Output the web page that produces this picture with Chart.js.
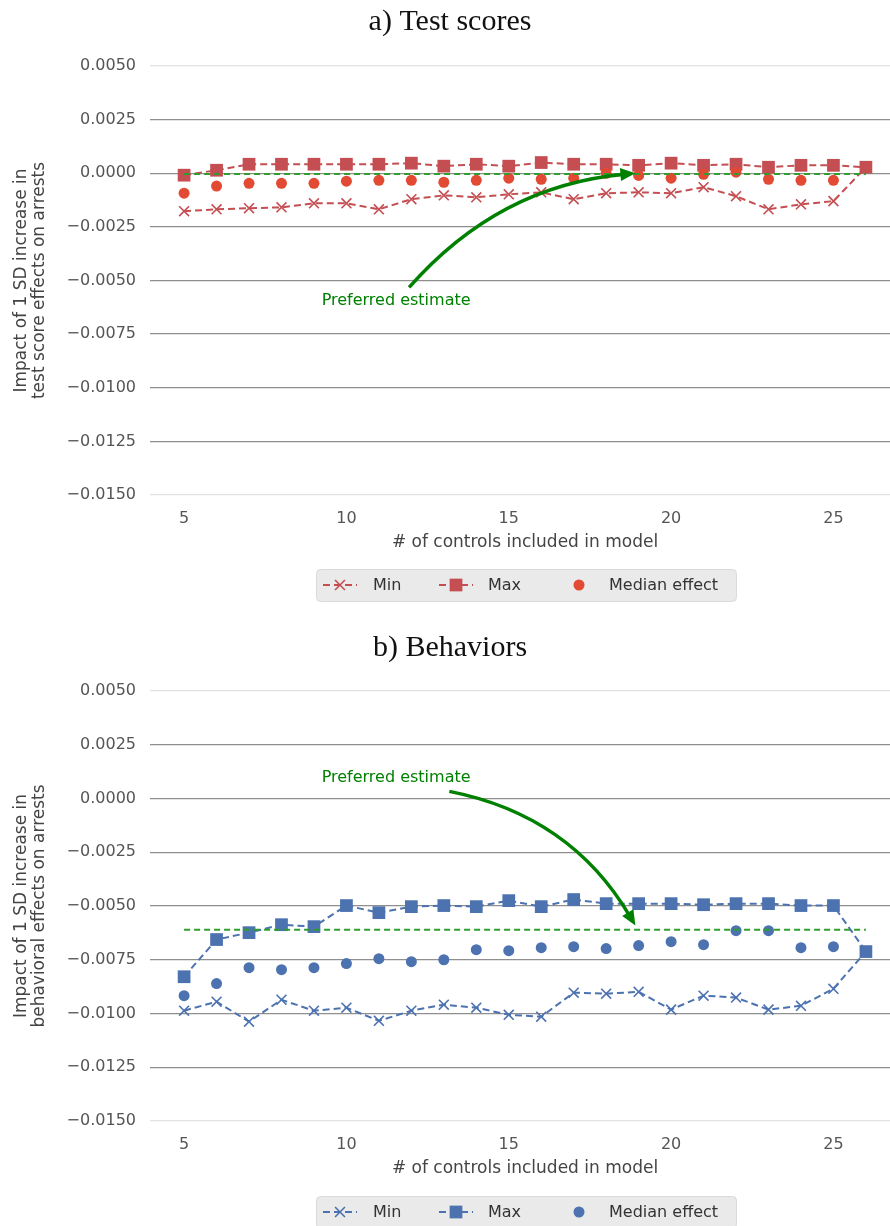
<!DOCTYPE html>
<html>
<head>
<meta charset="utf-8">
<script src="https://cdn.jsdelivr.net/npm/chart.js@4"></script>
<style>
html, body { margin: 0; padding: 0; background: #fff; overflow: hidden; width: 890px; height: 1226px; }
canvas { display: block; position: absolute; left: 0; }
#graficoA { top: 0; }
#graficoB { top: 613px; }
</style>
</head>
<body>
<canvas id="graficoA" width="912" height="613"></canvas>
<canvas id="graficoB" width="912" height="613"></canvas>
<script>
// Datos
const controles = [5, 6, 7, 8, 9, 10, 11, 12, 13, 14, 15, 16, 17, 18, 19, 20, 21, 22, 23, 24, 25, 26];
const xTicks = [5, 10, 15, 20, 25];
const yTicks = [-0.015, -0.0125, -0.01, -0.0075, -0.005, -0.0025, 0, 0.0025, 0.005];

// a) Test scores
const minTest = [-0.00177, -0.00168, -0.00163, -0.00159, -0.0014, -0.0014, -0.00168, -0.00121, -0.00103, -0.00112, -0.00098,
                 -0.00089, -0.00121, -0.00093, -0.00089, -0.00093, -0.00065, -0.00107, -0.00168, -0.00145, -0.0013, 0.00028];
const maxTest = [-0.00009, 0.00014, 0.00042, 0.00042, 0.00042, 0.00042, 0.00042, 0.00047, 0.00033, 0.00042, 0.00033,
                 0.0005, 0.00042, 0.00042, 0.00037, 0.00047, 0.00037, 0.00042, 0.00028, 0.00037, 0.00037, 0.00028];
const medTest = [-0.00093, -0.0006, -0.00047, -0.00047, -0.00047, -0.00037, -0.00033, -0.00033, -0.00042, -0.00033, -0.00023,
                 -0.00028, -0.00023, 0.0, -0.0001, -0.00023, -0.00005, 0.00005, -0.00028, -0.00033, -0.00033, null];
const prefTest = -0.00003;

// b) Behaviors
const minBeh = [-0.00987, -0.00945, -0.01038, -0.00936, -0.00987, -0.00973, -0.01034, -0.00987, -0.00959, -0.00973, -0.01006,
                -0.01015, -0.00903, -0.00908, -0.00899, -0.00982, -0.00917, -0.00926, -0.00982, -0.00964, -0.00885, -0.00712];
const maxBeh = [-0.00829, -0.00656, -0.00624, -0.00587, -0.00596, -0.00498, -0.00531, -0.00503, -0.00498, -0.00503, -0.00475,
                -0.00503, -0.0047, -0.00489, -0.00489, -0.00489, -0.00494, -0.00489, -0.00489, -0.00498, -0.00498, -0.00712];
const medBeh = [-0.00917, -0.00861, -0.00787, -0.00796, -0.00787, -0.00768, -0.00745, -0.00759, -0.0075, -0.00703, -0.00708,
                -0.00694, -0.00689, -0.00698, -0.00684, -0.00666, -0.0068, -0.00615, -0.00615, -0.00694, -0.00689, null];
const prefBeh = -0.0061;

const fuente = "'DejaVu Sans', sans-serif";

// Flecha curva + texto "Preferred estimate"
const anotaciones = {
    id: 'anotaciones',
    afterDatasetsDraw(chart, args, opts) {
        const ctx = chart.ctx, xs = chart.scales.x, ys = chart.scales.y;
        const p = a => ({ x: xs.getPixelForValue(a[0]), y: ys.getPixelForValue(a[1]) });
        const p0 = p(opts.desde), pc = p(opts.control), p1 = p(opts.hasta);
        const ang = Math.atan2(p1.y - pc.y, p1.x - pc.x);
        const L = 15, W = 6.5;
        ctx.save();
        ctx.strokeStyle = '#008000';
        ctx.fillStyle = '#008000';
        ctx.lineWidth = 3.5;
        ctx.beginPath();
        ctx.moveTo(p0.x, p0.y);
        ctx.quadraticCurveTo(pc.x, pc.y, p1.x - L * 0.7 * Math.cos(ang), p1.y - L * 0.7 * Math.sin(ang));
        ctx.stroke();
        ctx.beginPath();
        ctx.moveTo(p1.x, p1.y);
        ctx.lineTo(p1.x - L * Math.cos(ang) + W * Math.sin(ang), p1.y - L * Math.sin(ang) - W * Math.cos(ang));
        ctx.lineTo(p1.x - L * Math.cos(ang) - W * Math.sin(ang), p1.y - L * Math.sin(ang) + W * Math.cos(ang));
        ctx.closePath();
        ctx.fill();
        const t = p(opts.texto);
        ctx.font = '16px ' + fuente;
        ctx.textAlign = 'center';
        ctx.textBaseline = 'middle';
        ctx.fillText('Preferred estimate', t.x, t.y);
        ctx.restore();
    }
};

// Leyenda con fondo gris, linea discontinua y marcador
const leyenda = {
    id: 'leyenda',
    afterDraw(chart, args, opts) {
        const ctx = chart.ctx;
        const y0 = opts.y;
        ctx.save();
        ctx.fillStyle = '#eaeaea';
        ctx.strokeStyle = '#dadada';
        ctx.lineWidth = 1;
        ctx.beginPath();
        ctx.roundRect(316.5, y0 + 0.5, 420, 32, 4);
        ctx.fill();
        ctx.stroke();
        // posicion del marcador y del texto de cada entrada
        const items = [
            { ds: 0, x: 340, xt: 373 },
            { ds: 1, x: 456, xt: 488 },
            { ds: 2, x: 579, xt: 609 }
        ];
        const yc = y0 + 16;
        items.forEach(it => {
            const d = chart.data.datasets[it.ds];
            ctx.strokeStyle = d.borderColor;
            ctx.fillStyle = d.borderColor;
            if (d.showLine !== false) {
                ctx.lineWidth = 2;
                ctx.setLineDash([7, 4]);
                ctx.beginPath();
                ctx.moveTo(it.x - 17, yc);
                ctx.lineTo(it.x + 17, yc);
                ctx.stroke();
                ctx.setLineDash([]);
            }
            ctx.lineWidth = d.pointBorderWidth || 1;
            Chart.helpers.drawPoint(ctx, {
                pointStyle: d.pointStyle, radius: d.pointRadius, borderWidth: d.pointBorderWidth
            }, it.x, yc);
            ctx.fillStyle = '#333';
            ctx.font = '16px ' + fuente;
            ctx.textAlign = 'left';
            ctx.textBaseline = 'middle';
            ctx.fillText(d.label, it.xt, yc + 1);
        });
        ctx.restore();
    }
};

// Funcion para crear cada grafico
function crearGrafico(id, titulo, etiquetaY, series, colores, pref, cfg) {
    const ctx = document.getElementById(id).getContext('2d');
    const puntos = arr => controles.map((c, i) => ({ x: c, y: arr[i] }));
    const estiloMarcador = (col, estilo, r, bw) => ({
        borderColor: col, backgroundColor: col, pointBackgroundColor: col, pointBorderColor: col,
        pointStyle: estilo, pointRadius: r, pointBorderWidth: bw
    });
    new Chart(ctx, {
        type: 'line',
        data: {
            datasets: [
                Object.assign({ label: 'Min', data: puntos(series[0]), borderWidth: 2, borderDash: [7, 4], order: 4 },
                    estiloMarcador(colores[0], 'crossRot', 7, 1.6)),
                Object.assign({ label: 'Max', data: puntos(series[1]), borderWidth: 2, borderDash: [7, 4], order: 3 },
                    estiloMarcador(colores[0], 'rect', 9, 0)),
                Object.assign({ label: 'Median effect', data: puntos(series[2]), showLine: false, order: 2 },
                    estiloMarcador(colores[1], 'circle', 5.5, 0)),
                {
                    label: 'Preferred', data: [{ x: 5, y: pref }, { x: 26, y: pref }],
                    borderColor: '#2f9e2f', borderWidth: 2, borderDash: [6, 4], pointRadius: 0, order: 1
                }
            ]
        },
        options: {
            responsive: false,
            animation: false,
            layout: { padding: { left: 0, right: 12, top: 0, bottom: cfg.padAbajo } },
            scales: {
                x: {
                    type: 'linear',
                    min: 3.95,
                    max: 27.05,
                    afterBuildTicks: s => { s.ticks = xTicks.map(v => ({ value: v })); },
                    afterFit: s => { s.height = 60; },
                    grid: { display: false, drawTicks: false },
                    border: { display: false },
                    ticks: { color: '#555', padding: 14, font: { family: fuente, size: 16 } },
                    title: {
                        display: true, text: '# of controls included in model', color: '#444',
                        font: { family: fuente, size: 17 }, padding: { top: 0, bottom: 2 }
                    }
                },
                y: {
                    min: -0.015,
                    max: 0.005,
                    afterBuildTicks: s => { s.ticks = yTicks.map(v => ({ value: v })); },
                    afterFit: s => { s.width = 150; },
                    grid: {
                        drawTicks: false,
                        lineWidth: 1.3,
                        color: c => (c.index === 0 || c.index === yTicks.length - 1) ? '#e2e2e2' : '#8f8f8f'
                    },
                    border: { display: false },
                    ticks: {
                        color: '#555', padding: 14, font: { family: fuente, size: 16 },
                        callback: v => (v < -1e-9 ? '\u2212' : '') + Math.abs(v).toFixed(4)
                    },
                    title: {
                        display: true, text: etiquetaY, color: '#444',
                        font: { family: fuente, size: 17, lineHeight: 1.05 }, padding: { top: 13, bottom: 0 }
                    }
                }
            },
            plugins: {
                legend: { display: false },
                tooltip: { enabled: false },
                title: {
                    display: true, text: titulo, color: '#111',
                    font: { family: "'Liberation Serif', serif", size: 30, weight: 'normal', lineHeight: 1.2 },
                    padding: cfg.padTitulo
                },
                anotaciones: cfg.flecha,
                leyenda: { y: cfg.yLeyenda }
            }
        },
        plugins: [anotaciones, leyenda]
    });
}

crearGrafico('graficoA', 'a) Test scores',
    ['Impact of 1 SD increase in', 'test score effects on arrests'],
    [minTest, maxTest, medTest], ['#c44e52', '#e24a33'], prefTest,
    {
        padAbajo: 58, padTitulo: { top: 4, bottom: 26 }, yLeyenda: 569,
        flecha: { desde: [11.93, -0.00532], control: [14.7, -0.00056], hasta: [18.9, 0.0], texto: [11.53, -0.00597] }
    });

crearGrafico('graficoB', 'b) Behaviors',
    ['Impact of 1 SD increase in', 'behavioral effects on arrests'],
    [minBeh, maxBeh, medBeh], ['#4c72b0', '#4c72b0'], prefBeh,
    {
        padAbajo: 45, padTitulo: { top: 17, bottom: 25 }, yLeyenda: 583,
        flecha: { desde: [13.17, 0.00033], control: [16.9, -0.00078], hasta: [18.9, -0.00591], texto: [11.53, 0.00098] }
    });
</script>
</body>
</html>
